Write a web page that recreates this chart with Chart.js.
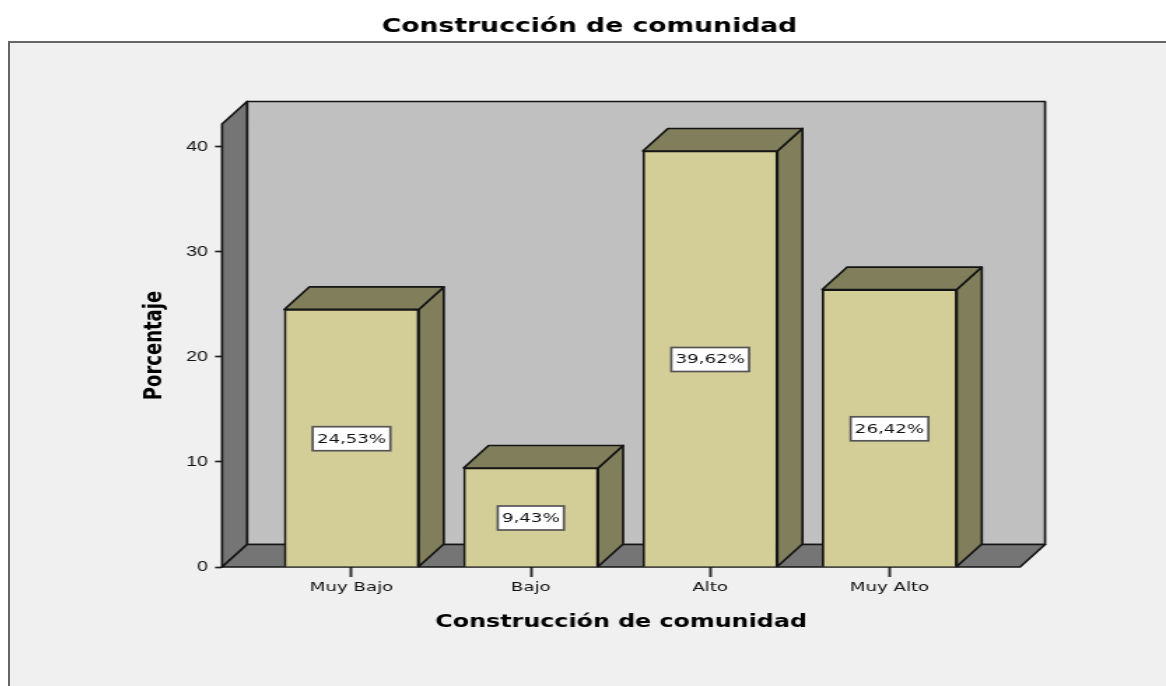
<!DOCTYPE html>
<html><head><meta charset="utf-8">
<style>
html,body{margin:0;padding:0;background:#fff;width:1166px;height:686px;overflow:hidden}
#panel{position:absolute;left:8px;top:41px;width:1158px;height:645px;box-sizing:border-box;background:#f0f0f0;border-top:2px solid #666;border-left:2px solid #666}
#c{position:absolute;left:13px;top:0;transform-origin:0 0;transform:scaleX(1.39927)}
</style>
<script src="https://cdn.jsdelivr.net/npm/chart.js@4"></script>
</head><body>
<div id="panel"></div>
<canvas id="c" width="824" height="686"></canvas>
<script>
const categories = ["Muy Bajo", "Bajo", "Alto", "Muy Alto"];
const values = [24.53, 9.43, 39.62, 26.42];
const valueLabels = ["24,53%", "9,43%", "39,62%", "26,42%"];
const yTicks = [0, 10, 20, 30, 40];
const titleText = "Construcción de comunidad";
const xAxisTitle = "Construcción de comunidad";
const yAxisTitle = "Porcentaje";

const S = 1.39927, DX = 25 / S, DY = 22.5;
const WALL = "#757575", BACK = "#c0c0c0", FRONT = "#d3ce97", SHADE = "#817e5b", INK = "#151515";

function poly(ctx, pts, fill) {
  ctx.beginPath();
  pts.forEach((p, i) => i ? ctx.lineTo(p[0], p[1]) : ctx.moveTo(p[0], p[1]));
  ctx.closePath();
  ctx.fillStyle = fill;
  ctx.fill();
  ctx.stroke();
}

const threeD = {
  id: "threeD",
  beforeDatasetsDraw(chart) {
    const { ctx, chartArea: a } = chart;
    ctx.save();
    ctx.strokeStyle = INK;
    ctx.lineWidth = 1.7;
    ctx.lineJoin = "round";
    poly(ctx, [[a.left + DX, a.top - DY], [a.right + DX, a.top - DY], [a.right + DX, a.bottom - DY], [a.left + DX, a.bottom - DY]], BACK);
    poly(ctx, [[a.left, a.top], [a.left + DX, a.top - DY], [a.left + DX, a.bottom - DY], [a.left, a.bottom]], WALL);
    poly(ctx, [[a.left, a.bottom], [a.left + DX, a.bottom - DY], [a.right + DX, a.bottom - DY], [a.right, a.bottom]], WALL);
    chart.getDatasetMeta(0).data.forEach(b => {
      const hw = b.width / 2, l = b.x - hw, r = b.x + hw;
      poly(ctx, [[r, b.y], [r + DX, b.y - DY], [r + DX, b.base - DY], [r, b.base]], SHADE);
      poly(ctx, [[l, b.y], [l + DX, b.y - DY], [r + DX, b.y - DY], [r, b.y]], SHADE);
    });
    ctx.restore();
  },
  afterDatasetsDraw(chart) {
    const { ctx } = chart;
    const ys = chart.scales.y;
    ctx.save();
    ctx.font = "13px 'DejaVu Sans'";
    ctx.textAlign = "center";
    ctx.textBaseline = "middle";
    chart.getDatasetMeta(0).data.forEach((b, i) => {
      const txt = valueLabels[i];
      const w = ctx.measureText(txt).width + 6, h = 24;
      const cy = ys.getPixelForValue(values[i] / 2) + 0.5;
      ctx.fillStyle = "#fff";
      ctx.strokeStyle = "#555";
      ctx.lineWidth = 1.7;
      ctx.fillRect(b.x - w / 2, cy - h / 2, w, h);
      ctx.strokeRect(b.x - w / 2, cy - h / 2, w, h);
      ctx.fillStyle = "#111";
      ctx.fillText(txt, b.x, cy + 0.5);
    });
    ctx.restore();
  }
};

new Chart(document.getElementById("c"), {
  type: "bar",
  data: {
    labels: categories,
    datasets: [{
      data: values.map((v, i) => ({ x: i, y: v })),
      backgroundColor: FRONT,
      borderColor: INK,
      borderWidth: 1.7,
      barThickness: 134.5 / S
    }]
  },
  plugins: [threeD],
  options: {
    responsive: false,
    animation: false,
    devicePixelRatio: 1,
    layout: { padding: { left: 104.3, right: 104.3, top: 0, bottom: 0 } },
    plugins: {
      legend: { display: false },
      tooltip: { enabled: false },
      title: {
        display: true,
        text: titleText,
        color: "#000",
        font: { family: "'DejaVu Sans'", size: 19, weight: "bold", lineHeight: 1.2 },
        padding: { top: 15.6, bottom: 85.6 }
      }
    },
    scales: {
      x: {
        type: "linear",
        offset: false,
        min: -0.722,
        max: 3.728,
        afterFit: s => { s.height = 119; },
        afterBuildTicks: s => { s.ticks = categories.map((c, i) => ({ value: i })); },
        ticks: {
          stepSize: 1,
          autoSkip: false,
          maxRotation: 0,
          padding: 3,
          color: "#111",
          font: { family: "'DejaVu Sans'", size: 13 },
          callback: v => categories[v]
        },
        grid: { offset: false, drawOnChartArea: false, drawTicks: true, tickLength: 10, tickColor: "#333", tickWidth: 2 },
        border: { display: false },
        title: {
          display: true,
          text: xAxisTitle,
          color: "#000",
          font: { family: "'DejaVu Sans'", size: 17, weight: "bold", lineHeight: 1.2 },
          padding: { top: 0, bottom: 53.5 }
        }
      },
      y: {
        min: 0,
        max: 42.19,
        afterFit: s => { s.width = 45.1; },
        afterBuildTicks: s => { s.ticks = yTicks.map(v => ({ value: v })); },
        ticks: {
          padding: 5,
          color: "#111",
          font: { family: "'Liberation Sans'", size: 14 }
        },
        grid: { drawOnChartArea: false, drawTicks: true, tickLength: 5, tickColor: "#222", tickWidth: 1.7 },
        border: { display: false },
        title: {
          display: true,
          text: yAxisTitle,
          color: "#000",
          font: { family: "'DejaVu Sans'", size: 18, weight: "bold", lineHeight: 1.2 },
          padding: { top: -14, bottom: 0 }
        }
      }
    }
  }
});
</script>
</body></html>
